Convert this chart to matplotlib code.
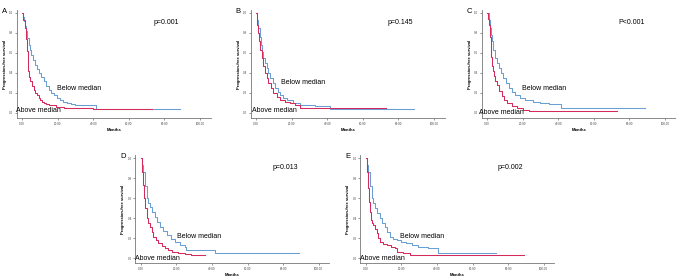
import numpy as np
import matplotlib.pyplot as plt

plt.rcParams['font.family'] = ['Liberation Sans', 'DejaVu Sans']

# --- Data (months, survival proportion)
a_below_t = [0, 0.6, 1.3, 1.8, 2.4, 3.0, 3.7, 4.3, 5.0, 6.2, 7.4, 8.3, 9.3, 10.7, 12.1, 13.5, 14.9,
             16.3, 17.7, 19.5, 21.4, 23.2, 25.1, 27.5, 29.8, 35, 41.5, 89]
a_below_s = [1.0, 0.96, 0.92, 0.87, 0.82, 0.75, 0.68, 0.63, 0.58, 0.53, 0.48, 0.44, 0.40, 0.36, 0.32,
             0.27, 0.23, 0.20, 0.18, 0.155, 0.13, 0.115, 0.10, 0.088, 0.077, 0.077, 0.043, 0.043]
a_above_t = [0, 0.8, 1.7, 2.2, 2.8, 3.1, 3.4, 4.0, 4.7, 5.6, 6.5, 7.4, 8.4, 9.3, 10.2, 11.2, 12.1,
             13.5, 14.9, 19, 23.3, 40, 73]
a_above_s = [1.0, 0.93, 0.85, 0.74, 0.62, 0.52, 0.42, 0.36, 0.32, 0.27, 0.23, 0.20, 0.18, 0.155, 0.13,
             0.115, 0.10, 0.088, 0.077, 0.06, 0.05, 0.043, 0.043]

b_below_t = [0, 0.6, 1.3, 2.0, 2.6, 3.3, 4.1, 5.0, 6.0, 7.0, 7.9, 9.3, 10.7, 12.1, 13.5, 15.3, 17.2,
             21, 24.7, 33, 41.6, 89]
b_below_s = [1.0, 0.93, 0.85, 0.76, 0.68, 0.61, 0.55, 0.50, 0.45, 0.40, 0.35, 0.30, 0.25, 0.21, 0.18,
             0.155, 0.13, 0.10, 0.08, 0.07, 0.043, 0.043]
b_above_t = [0, 0.4, 0.75, 1.3, 1.9, 2.5, 3.2, 4.1, 5.1, 6.0, 6.9, 8.3, 9.7, 11.6, 13.5, 16.2, 19.0,
             22, 24.7, 73]
b_above_s = [1.0, 0.94, 0.88, 0.80, 0.72, 0.63, 0.55, 0.47, 0.40, 0.35, 0.30, 0.25, 0.20, 0.16, 0.13,
             0.115, 0.10, 0.08, 0.05, 0.05]

c_below_t = [0, 1.0, 1.9, 2.3, 2.8, 3.5, 4.3, 5.4, 6.6, 7.7, 8.8, 10.5, 12.2, 14.0, 15.9, 18.7, 21.5,
             25.7, 29.9, 35, 41.6, 89]
c_below_s = [1.0, 0.93, 0.85, 0.78, 0.72, 0.63, 0.55, 0.50, 0.45, 0.40, 0.35, 0.30, 0.25, 0.21, 0.18,
             0.155, 0.13, 0.115, 0.10, 0.09, 0.05, 0.05]
c_above_t = [0, 0.6, 1.3, 1.8, 2.3, 2.5, 2.8, 3.2, 3.7, 4.6, 5.6, 7.0, 8.4, 9.8, 11.2, 14, 16.9, 20,
             23.4, 73]
c_above_s = [1.0, 0.94, 0.88, 0.76, 0.65, 0.56, 0.47, 0.42, 0.37, 0.32, 0.28, 0.22, 0.17, 0.13, 0.10,
             0.075, 0.05, 0.035, 0.025, 0.025]

d_below_t = [0, 0.8, 1.5, 2.4, 3.3, 4.2, 5.2, 6.6, 8.0, 9.4, 10.8, 12.6, 14.5, 16.8, 19.2, 22, 24.8,
             25.7, 41.6, 89]
d_below_s = [1.0, 0.93, 0.86, 0.72, 0.60, 0.55, 0.51, 0.46, 0.41, 0.36, 0.31, 0.27, 0.23, 0.19, 0.16,
             0.135, 0.11, 0.08, 0.055, 0.055]
d_above_t = [0, 0.5, 0.9, 1.4, 2.0, 2.6, 3.3, 4.2, 5.2, 6.1, 7.1, 8.5, 9.9, 11.7, 13.6, 15.4, 17.3,
             21, 24.8, 28.5, 36]
d_above_s = [1.0, 0.93, 0.86, 0.73, 0.60, 0.50, 0.40, 0.35, 0.31, 0.26, 0.21, 0.18, 0.15, 0.125, 0.10,
             0.08, 0.06, 0.05, 0.045, 0.03, 0.03]

e_below_t = [0, 0.8, 1.5, 2.4, 3.3, 4.2, 5.2, 6.6, 8.0, 9.4, 10.8, 12.2, 13.6, 15.4, 17.3, 20, 22.9,
             26, 29.5, 35, 40.7, 73]
e_below_s = [1.0, 0.93, 0.86, 0.72, 0.60, 0.55, 0.50, 0.45, 0.40, 0.35, 0.31, 0.26, 0.21, 0.195, 0.18,
             0.165, 0.15, 0.13, 0.11, 0.10, 0.05, 0.05]
e_above_t = [0, 0.5, 0.9, 1.4, 1.9, 2.4, 2.8, 3.5, 4.3, 5.2, 6.1, 7.0, 8.0, 9.8, 11.7, 14, 16.4, 17.3,
             21, 24.8, 89]
e_above_s = [1.0, 0.93, 0.86, 0.70, 0.56, 0.46, 0.38, 0.35, 0.33, 0.29, 0.25, 0.20, 0.16, 0.145, 0.13,
             0.115, 0.10, 0.06, 0.05, 0.03, 0.03]

panel_letters = ['A', 'B', 'C', 'D', 'E']
p_texts = ['p=0.001', 'p=0.145', 'P<0.001', 'p=0.013', 'p=0.002']
x_ticks = [0, 20, 40, 60, 80, 100]
x_tick_labels = ['0.00', '20.00', '40.00', '60.00', '80.00', '100.00']
y_ticks = [0.0, 0.2, 0.4, 0.6, 0.8, 1.0]
y_tick_labels = ['0.0', '0.2', '0.4', '0.6', '0.8', '1.0']

curves = [
    (a_below_t, a_below_s, a_above_t, a_above_s),
    (b_below_t, b_below_s, b_above_t, b_above_s),
    (c_below_t, c_below_s, c_above_t, c_above_s),
    (d_below_t, d_below_s, d_above_t, d_above_s),
    (e_below_t, e_below_s, e_above_t, e_above_s),
]

# label anchor positions (data coords) per panel
below_pos = [(19.6, 0.24), (14.0, 0.31), (19.5, 0.24), (20.1, 0.22), (19.4, 0.22)]
above_pos = [(-3.4, 0.02), (-2.4, 0.03), (-4.5, 0.0), (-3.2, 0.0), (-3.2, 0.0)]

# --- Layout in pixels (left edge and top edge of each axes)
W, H = 676, 276
ax_w = 194
ax_h = 108
lefts = [16.7, 250.7, 481.7, 135.4, 360.4]
tops = [10, 10, 10, 155, 155]

BLUE = '#6a9fd6'
RED = '#d42a5c'

fig = plt.figure(figsize=(W / 100, H / 100), dpi=100)

for idx in range(5):
    rect = [lefts[idx] / W, 1 - (tops[idx] + ax_h) / H, ax_w / W, ax_h / H]
    ax = fig.add_axes(rect)
    bt, bs, rt, rs = curves[idx]
    ax.plot(bt, bs, drawstyle='steps-post', color=BLUE, lw=0.75)
    ax.plot(rt, rs, drawstyle='steps-post', color=RED, lw=0.75)

    ax.set_xlim(-3, 106)
    ax.set_ylim(-0.05, 1.03)
    ax.set_xticks(x_ticks)
    ax.set_xticklabels(x_tick_labels)
    ax.set_yticks(y_ticks)
    ax.set_yticklabels(y_tick_labels)
    ax.tick_params(labelsize=2.2, length=1.2, width=0.4, pad=1.5, colors='#444444')

    for side in ['top', 'right']:
        ax.spines[side].set_visible(False)
    for side in ['left', 'bottom']:
        ax.spines[side].set_color('#777777')
        ax.spines[side].set_linewidth(0.6)

    ax.set_xlabel('Months', fontsize=3, fontweight='bold', labelpad=1.5)
    ax.set_ylabel('Progression-free survival', fontsize=3, fontweight='bold', labelpad=1.5)

    ax.text(below_pos[idx][0], below_pos[idx][1], 'Below median', fontsize=5, va='center', ha='left')
    ax.text(above_pos[idx][0], above_pos[idx][1], 'Above median', fontsize=5, va='center', ha='left')
    ax.text(74, 0.905, p_texts[idx], fontsize=5, va='center', ha='left')

    # panel letter to the upper left of the y-axis
    fig.text((lefts[idx] - 15) / W, 1 - (tops[idx] - 2) / H, panel_letters[idx],
             fontsize=5.5, va='top', ha='left')

fig.savefig('out.png', dpi=100)
